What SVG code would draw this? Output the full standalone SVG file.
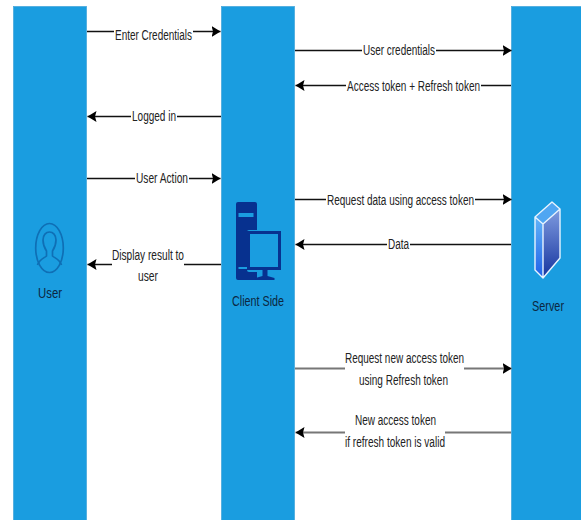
<svg xmlns="http://www.w3.org/2000/svg" width="581" height="520" viewBox="0 0 581 520">
<style>
.lane{fill:#1a9de0;stroke:#4aa8dc;stroke-width:.8}
.c{fill:none;stroke:#111;stroke-width:1.5}
.g{fill:none;stroke:#777;stroke-width:2.2}
.t{font-family:"Liberation Sans",Arial,sans-serif;font-size:14px;fill:#222;text-anchor:middle}
.n{font-family:"Liberation Sans",Arial,sans-serif;font-size:15px;fill:#0c2740;text-anchor:middle}
</style>
<defs>
<marker id="a" markerUnits="userSpaceOnUse" markerWidth="10" markerHeight="12" refX="9" refY="6" orient="auto"><path d="M0 .5L9 6L0 11.500L1.500 6Z" fill="#000"/></marker>
<linearGradient id="f" x1="0" y1="0" x2="0" y2="1"><stop offset="0" stop-color="#8aa6e6"/><stop offset="1" stop-color="#16349f"/></linearGradient>
<linearGradient id="s" x1="0" y1="0" x2="0" y2="1"><stop offset="0" stop-color="#62b4f8"/><stop offset="1" stop-color="#2060e8"/></linearGradient>
</defs>
<rect width="581" height="520" fill="#fff"/>
<g id="user">
<rect class="lane" x="13.500" y="6.500" width="73" height="514"/>
<g fill="none" stroke="#0f6fb5" stroke-width="1.700">
<ellipse cx="49.500" cy="248" rx="13.800" ry="24.500"/>
<path d="M37.500 265c2-6 7-7 9-9v-5c-2-3-3.500-7-3.500-11c0-5 3-8 6.500-8s6.500 3 6.500 8c0 4-1.500 8-3.500 11v5c2 2 7 3 9 9"/>
</g>
<text class="n" x="50" y="298" textLength="24" lengthAdjust="spacingAndGlyphs">User</text>
</g>
<g id="client">
<rect class="lane" x="221.500" y="6.500" width="73" height="514"/>
<path d="M238 202h17q2 0 2 2v26h-8q-2 0-2 2v38q0 2 2 2h8v8h-19q-2 0-2-2v-74q0-2 2-2z" fill="#07318f"/>
<rect x="238.500" y="213" width="15" height="4" fill="#1a9de0"/>
<rect x="238.500" y="267" width="10" height="2" fill="#1a9de0"/>
<rect x="248.500" y="232.500" width="31" height="36" fill="#1a9de0" stroke="#07318f" stroke-width="3"/>
<path d="M262.500 269h5v7l7 2v2h-19v-2l7-2z" fill="#07318f"/>
<text class="n" x="258" y="306" textLength="52" lengthAdjust="spacingAndGlyphs">Client Side</text>
</g>
<g id="server">
<rect class="lane" x="511.500" y="6.500" width="73" height="514"/>
<path d="M535 217L552 202L560 209V258L543 278L535 270Z" fill="url(#f)"/>
<path d="M535 217L543 224V278L535 270Z" fill="url(#s)"/>
<path d="M535 217L552 202L560 209L543 224Z" fill="#4fa6f2"/>
<path d="M535 217L552 202L560 209V258L543 278L535 270ZM535 217L543 224L560 209M543 224V278" fill="none" stroke="#e8f4ff" stroke-width="1.400" stroke-linejoin="round"/>
<text class="n" x="548" y="311" textLength="32" lengthAdjust="spacingAndGlyphs">Server</text>
</g>
<g id="connectors">
<path class="c" d="M87 31.500H114M193 31.500H220.500" marker-end="url(#a)"/>
<path class="c" d="M295 50.500H362M436 50.500H511.500" marker-end="url(#a)"/>
<path class="c" d="M511 85.500H481M346 85.500H295.500" marker-end="url(#a)"/>
<path class="c" d="M221 116.500H177M131 116.500H87.500" marker-end="url(#a)"/>
<path class="c" d="M87 178.500H135M189 178.500H220.500" marker-end="url(#a)"/>
<path class="c" d="M295 199.500H326M475 199.500H511.500" marker-end="url(#a)"/>
<path class="c" d="M511 244.500H410M387 244.500H295.500" marker-end="url(#a)"/>
<path class="c" d="M221 264.500H184M112 264.500H87.500" marker-end="url(#a)"/>
<path class="g" d="M295 368.500H345M464 368.500H511.500" marker-end="url(#a)"/>
<path class="g" d="M511 432.500H445M345 432.500H295.500" marker-end="url(#a)"/>
</g>
<g id="labels">
<text class="t" x="153.500" y="40" textLength="77" lengthAdjust="spacingAndGlyphs">Enter Credentials</text>
<text class="t" x="399" y="55" textLength="72" lengthAdjust="spacingAndGlyphs">User credentials</text>
<text class="t" x="413.500" y="91" textLength="133" lengthAdjust="spacingAndGlyphs">Access token + Refresh token</text>
<text class="t" x="154" y="121" textLength="44" lengthAdjust="spacingAndGlyphs">Logged in</text>
<text class="t" x="162" y="183" textLength="52" lengthAdjust="spacingAndGlyphs">User Action</text>
<text class="t" x="400.500" y="205" textLength="147" lengthAdjust="spacingAndGlyphs">Request data using access token</text>
<text class="t" x="398.500" y="249" textLength="21" lengthAdjust="spacingAndGlyphs">Data</text>
<text class="t" x="148" y="260" textLength="72" lengthAdjust="spacingAndGlyphs">Display result to</text>
<text class="t" x="148" y="281" textLength="20" lengthAdjust="spacingAndGlyphs">user</text>
<text class="t" x="404.500" y="363" textLength="119" lengthAdjust="spacingAndGlyphs">Request new access token</text>
<text class="t" x="403.500" y="385" textLength="89" lengthAdjust="spacingAndGlyphs">using Refresh token</text>
<text class="t" x="395.500" y="425" textLength="81" lengthAdjust="spacingAndGlyphs">New access token</text>
<text class="t" x="395" y="447" textLength="100" lengthAdjust="spacingAndGlyphs">if refresh token is valid</text>
</g>
</svg>
